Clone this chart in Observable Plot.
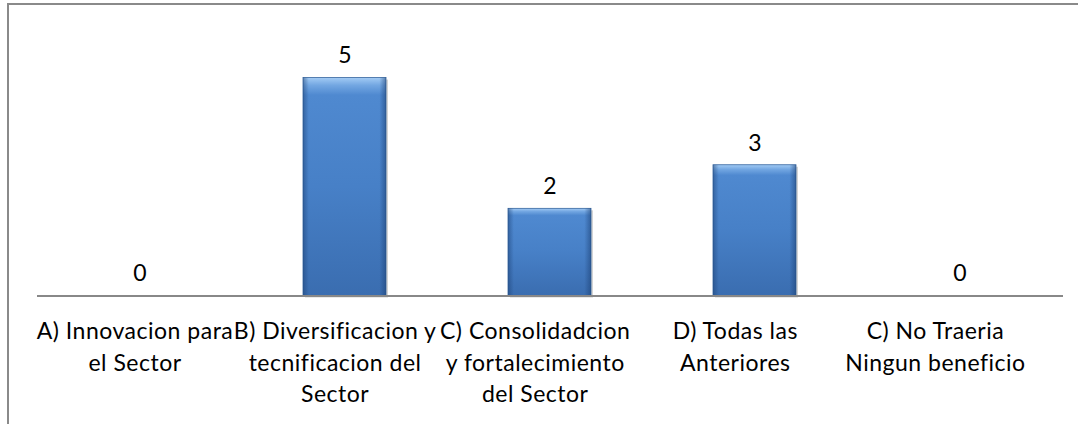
<!DOCTYPE html>
<html>
<head>
<meta charset="utf-8">
<script src="https://cdn.jsdelivr.net/npm/d3@7"></script>
<script src="https://cdn.jsdelivr.net/npm/@observablehq/plot@0.6"></script>
<style>
  html, body { margin: 0; padding: 0; background: #fff; }
  #chart { position: relative; width: 1078px; height: 424px; overflow: hidden; }
  #frame { position: absolute; left: 7px; top: 3px; width: 1100px; height: 440px;
           border-left: 2px solid #8a8a8a; border-top: 2px solid #8a8a8a; box-sizing: border-box; }
  #chart svg { position: absolute; left: 0; top: 0; }
  #chart svg g[aria-label="x-axis tick label"] text { letter-spacing: 0.5px; }
</style>
</head>
<body>
<div id="chart"><div id="frame"></div></div>
<script>
const categories = [
  "A) Innovacion para\nel Sector",
  "B) Diversificacion y\ntecnificacion del\nSector",
  "C) Consolidadcion\ny fortalecimiento\ndel Sector",
  "D) Todas las\nAnteriores",
  "C) No Traeria\nNingun beneficio"
];
const values = [0, 5, 2, 3, 0];

const data = categories.map((c, i) => ({category: c, value: values[i]}));

const font = "Lato, 'Open Sans', sans-serif";

// category labels sit on a slightly tighter pitch than the bars (as in the source chart)
const labelAxes = categories.map((c, i) =>
  Plot.axisX([c], {anchor: "bottom", tickSize: 0, tickPadding: 21, lineHeight: 1.37, fontSize: 23,
                   label: null, fill: "#000", dx: -5 - 4.9 * i})
);

const chart = Plot.plot({
  width: 1078,
  height: 424,
  marginLeft: 37,
  marginRight: 15,
  marginTop: 34,
  marginBottom: 128.5,
  style: {fontFamily: font, fontSize: "23px", background: "transparent", color: "#000"},
  x: {domain: categories, paddingInner: 0.595, paddingOuter: 0.2975, axis: null},
  y: {domain: [0, 6], axis: null},
  marks: [
    () => {
      const ns = "http://www.w3.org/2000/svg";
      const defs = document.createElementNS(ns, "defs");
      defs.innerHTML = `
        <linearGradient id="barV" x1="0" y1="0" x2="0" y2="1">
          <stop offset="0" stop-color="#a3cbf4"/>
          <stop offset="0.035" stop-color="#73a7e2"/>
          <stop offset="0.08" stop-color="#4f89d0"/>
          <stop offset="0.5" stop-color="#4780c7"/>
          <stop offset="1" stop-color="#3a6db0"/>
        </linearGradient>
        <linearGradient id="barH" x1="0" y1="0" x2="1" y2="0">
          <stop offset="0" stop-color="#1b3f73" stop-opacity="0.5"/>
          <stop offset="0.07" stop-color="#1b3f73" stop-opacity="0"/>
          <stop offset="0.92" stop-color="#1b3f73" stop-opacity="0"/>
          <stop offset="1" stop-color="#1b3f73" stop-opacity="0.55"/>
        </linearGradient>`;
      const g = document.createElementNS(ns, "g");
      g.appendChild(defs);
      return g;
    },
    Plot.barY(data.filter(d => d.value > 0), {x: "category", y: "value", fill: "#b0b0b0", fillOpacity: 0.55, dx: 2, dy: 2}),
    Plot.barY(data.filter(d => d.value > 0), {x: "category", y: "value", fill: "url(#barV)", stroke: "#34649f", strokeWidth: 0.8}),
    Plot.barY(data.filter(d => d.value > 0), {x: "category", y: "value", fill: "url(#barH)"}),
    Plot.ruleY([0], {stroke: "#888", strokeWidth: 2}),
    Plot.text(data, {x: "category", y: "value", text: d => String(d.value), dy: -22, lineAnchor: "middle", fontSize: 23, fill: "#000"}),
    ...labelAxes
  ]
});

document.getElementById("chart").appendChild(chart);
</script>
</body>
</html>
